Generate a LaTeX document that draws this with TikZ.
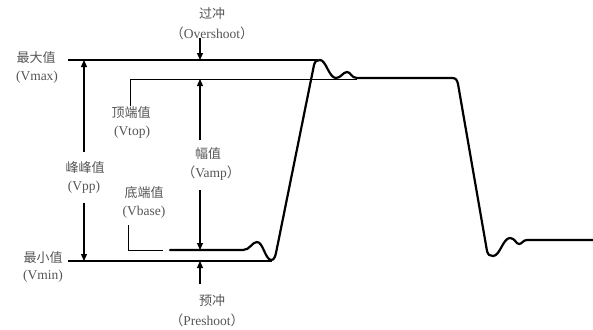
\documentclass[tikz,border=0pt]{standalone}
\usepackage{fontspec}
\setmainfont{Liberation Serif}
\newfontfamily\cjk{Noto Sans CJK SC}
\usetikzlibrary{arrows.meta}
\definecolor{txt}{HTML}{555555}
\begin{document}
\begin{tikzpicture}[x=1pt,y=-1pt,
  lbl/.style={text=txt,font=\fontsize{13.5}{15}\selectfont,inner sep=0pt,anchor=center},
  zh/.style={lbl,font=\fontsize{13}{15}\selectfont\cjk},
  refline/.style={line width=1.8pt},
  thinline/.style={line width=1pt},
  wave/.style={line width=2.2pt,line join=round,line cap=round},
  arr/.style={line width=1.2pt,-{Triangle[length=7pt,width=6pt]}}]
\useasboundingbox (0,0) rectangle (593,329);
% labels
\node[zh]  (os1) at (212,14) {过冲};
\node[lbl] (os2) at (212,33) {{\cjk （}Overshoot{\cjk ）}};
\node[zh]  (mx1) at (36,58) {最大值};
\node[lbl] (mx2) at (37,77) {(Vmax)};
\node[zh]  (tp1) at (131,113) {顶端值};
\node[lbl] (tp2) at (132,132) {(Vtop)};
\node[zh]  (am1) at (208,154) {幅值};
\node[lbl] (am2) at (211,173) {{\cjk （}Vamp{\cjk ）}};
\node[zh]  (pp1) at (85,168) {峰峰值};
\node[lbl] (pp2) at (84,187) {(Vpp)};
\node[zh]  (bs1) at (144,193) {底端值};
\node[lbl] (bs2) at (144,212) {(Vbase)};
\node[zh]  (mn1) at (43,258) {最小值};
\node[lbl] (mn2) at (43,276) {(Vmin)};
\node[zh]  (ps1) at (212,301) {预冲};
\node[lbl] (ps2) at (207,320) {{\cjk （}Preshoot{\cjk ）}};
% reference lines
\coordinate (maxL) at (68,60);  \coordinate (maxR) at (318,60);
\coordinate (topT) at (130,106); \coordinate (topL) at (130,79); \coordinate (topR) at (357,79);
\coordinate (minL) at (68,261); \coordinate (minR) at (272,261);
\coordinate (baseT) at (128,225); \coordinate (baseC) at (128,250); \coordinate (baseR) at (163,250);
\draw[refline] (maxL) -- (maxR);
\draw[thinline] (topT) -- (topL) -- (topR);
\draw[refline] (minL) -- (minR);
\draw[thinline] (baseT) -- (baseC) -- (baseR);
% arrows
\coordinate (osA) at (200,38);  \coordinate (osB) at (200,60);
\coordinate (ppA) at (84,152);  \coordinate (ppB) at (84,60);
\coordinate (ppC) at (84,203);  \coordinate (ppD) at (84,261);
\coordinate (amA) at (200,140); \coordinate (amB) at (200,79);
\coordinate (amC) at (200,190); \coordinate (amD) at (200,250);
\coordinate (psA) at (200,284); \coordinate (psB) at (200,261);
\draw[arr] (osA) -- (osB);
\draw[arr] (ppA) -- (ppB);
\draw[arr] (ppC) -- (ppD);
\draw[arr] (amA) -- (amB);
\draw[arr] (amC) -- (amD);
\draw[arr] (psA) -- (psB);
% waveform
\coordinate (w0) at (170,250);
\coordinate (wEnd) at (593,240);
\draw[wave] (w0) -- (243,250)
  .. controls (250,250) and (252,242) .. (257,242)
  .. controls (263,242) and (265,259) .. (271,260)
  .. controls (274,260) and (275,257) .. (276,253)
  -- (314,65)
  .. controls (315,61) and (317,60) .. (320,60)
  .. controls (326,60) and (329,78) .. (336,78)
  .. controls (341,78) and (343,72) .. (347,72)
  .. controls (351,72) and (351,78) .. (357,78)
  -- (452,78)
  .. controls (456,78) and (457,80) .. (458,84)
  -- (487,251)
  .. controls (488,255) and (490,256) .. (493,256)
  .. controls (500,256) and (503,238) .. (510,238)
  .. controls (515,238) and (516,244) .. (519,244)
  .. controls (522,244) and (523,240) .. (527,240)
  -- (wEnd);
\end{tikzpicture}
\end{document}
